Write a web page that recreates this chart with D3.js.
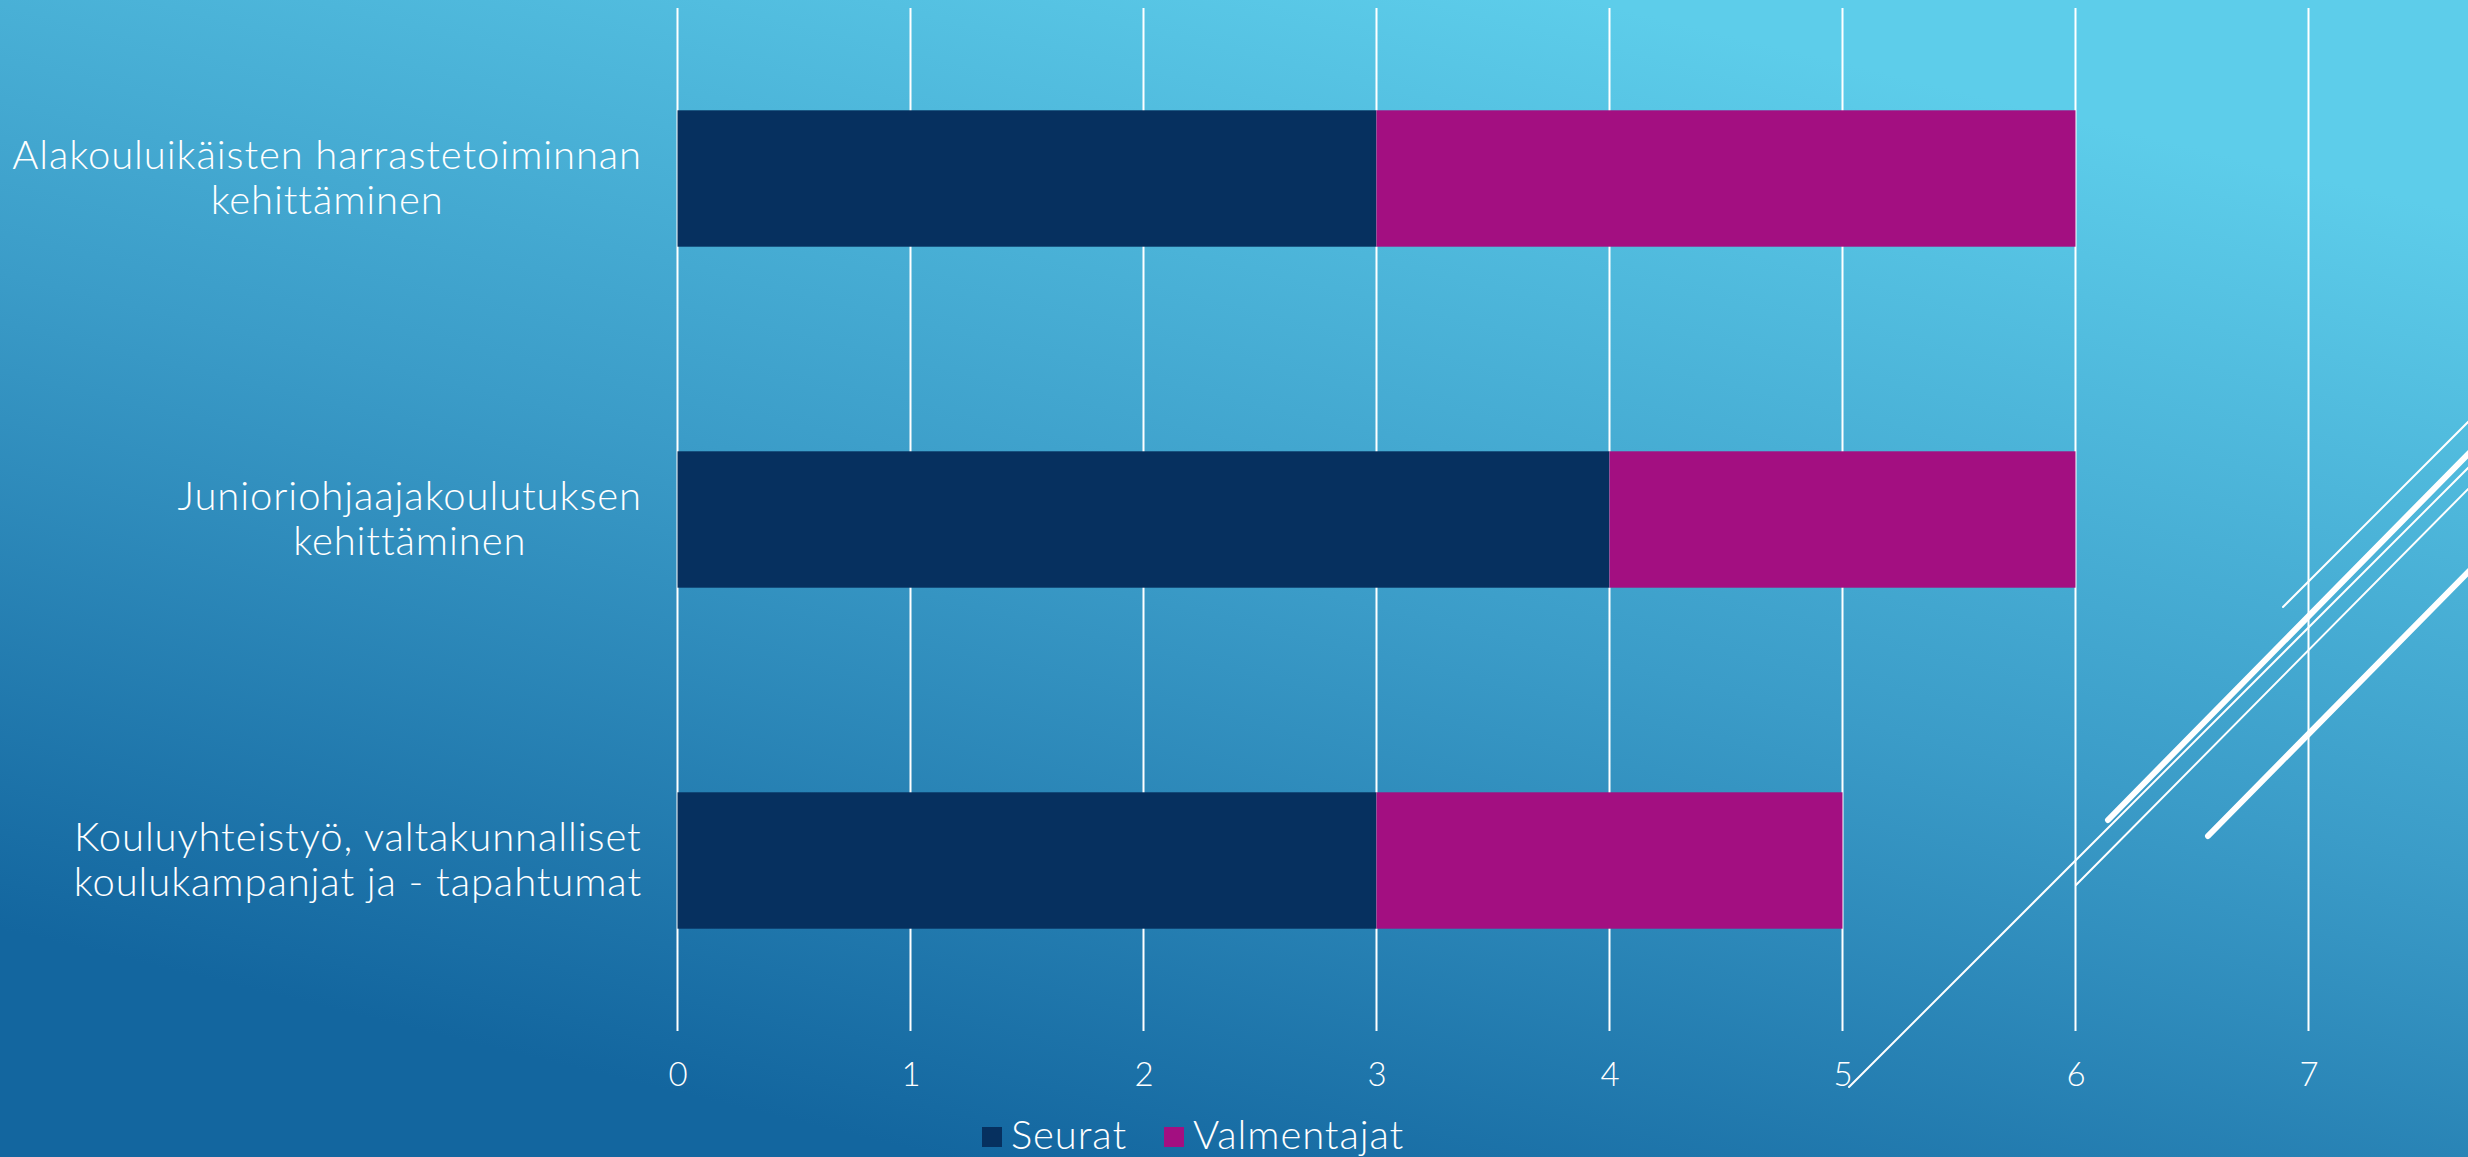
<!DOCTYPE html>
<html>
<head>
<meta charset="utf-8">
<script src="https://cdn.jsdelivr.net/npm/d3@7"></script>
<style>
  html, body { margin: 0; padding: 0; overflow: hidden; }
  svg { display: block; }
  text { font-family: "Lato", "Open Sans", sans-serif; font-weight: 300; fill: #ffffff; }
</style>
</head>
<body>
<svg id="chart" width="2468" height="1157"></svg>
<script>
// ---- data ----
const categories = [
  "Alakouluikäisten harrastetoiminnan kehittäminen",
  "Junioriohjaajakoulutuksen kehittäminen",
  "Kouluyhteistyö, valtakunnalliset koulukampanjat ja - tapahtumat"
];
const categoryLines = [
  ["Alakouluikäisten harrastetoiminnan", "kehittäminen"],
  ["Junioriohjaajakoulutuksen", "kehittäminen"],
  ["Kouluyhteistyö, valtakunnalliset", "koulukampanjat ja - tapahtumat"]
];
const seriesNames = ["Seurat", "Valmentajat"];
const seurat = [3, 4, 3];
const valmentajat = [3, 2, 2];
const xTicks = [0, 1, 2, 3, 4, 5, 6, 7];
const seriesColors = ["#06305f", "#a30f81"];

// ---- layout ----
const W = 2468, H = 1157;
const svg = d3.select("#chart");
const defs = svg.append("defs");

const grad = defs.append("linearGradient")
  .attr("id", "bg").attr("gradientUnits", "userSpaceOnUse")
  .attr("x1", 1420).attr("y1", -40).attr("x2", 1120).attr("y2", 1200);
grad.append("stop").attr("offset", 0).attr("stop-color", "#5dcdea");
grad.append("stop").attr("offset", 0.5).attr("stop-color", "#3b9cc8");
grad.append("stop").attr("offset", 1).attr("stop-color", "#13669f");
svg.append("rect").attr("width", W).attr("height", H).attr("fill", "url(#bg)");

const x = d3.scaleLinear().domain([0, 7]).range([677.5, 2308.5]);
const y = d3.scaleBand().domain(categories).range([8, 1031])
  .paddingInner(0.6).paddingOuter(0.3);

// gridlines
svg.append("g").selectAll("line").data(xTicks).join("line")
  .attr("x1", d => x(d)).attr("x2", d => x(d))
  .attr("y1", y.range()[0]).attr("y2", y.range()[1])
  .attr("stroke", "#ffffff").attr("stroke-width", 2);

// stacked bars
const rows = categories.map((c, i) => ({ cat: c, vals: [seurat[i], valmentajat[i]] }));
const stack = d3.stack().keys([0, 1]).value((d, k) => d.vals[k]);
const stacked = stack(rows);
svg.append("g").selectAll("g").data(stacked).join("g")
  .attr("fill", (d, i) => seriesColors[i])
  .selectAll("rect").data(d => d).join("rect")
  .attr("x", d => x(d[0]))
  .attr("width", d => x(d[1]) - x(d[0]))
  .attr("y", d => y(d.data.cat))
  .attr("height", y.bandwidth());

// x axis tick labels
const xAxis = d3.axisBottom(x).tickValues(xTicks).tickFormat(d3.format("d"))
  .tickSize(0).tickPadding(0);
const gx = svg.append("g").attr("transform", "translate(0,1086)").call(xAxis);
gx.select(".domain").remove();
gx.selectAll("text").attr("font-size", 33).attr("dy", 0)
  .style("font-family", "Lato, sans-serif").style("font-weight", 300).attr("fill", "#fff");

// category labels (block right aligned, lines centered within block)
const catFont = 40;
const labelG = svg.append("g");
categories.forEach((c, i) => {
  const cy = y(c) + y.bandwidth() / 2;
  const g = labelG.append("g");
  const t = g.selectAll("text").data(categoryLines[i]).join("text")
    .attr("font-size", catFont)
    .style("letter-spacing", "0.9px")
    .attr("text-anchor", "middle")
    .attr("y", (d, j) => cy - 10 + j * 45)
    .text(d => d);
  const widths = t.nodes().map(n => n.getComputedTextLength());
  const bw = d3.max(widths);
  t.attr("x", 642 - bw / 2);
});

// legend
const legend = svg.append("g");
const legX = [982, 1164];
seriesNames.forEach((s, i) => {
  legend.append("rect").attr("x", legX[i]).attr("y", 1127).attr("width", 20).attr("height", 20)
    .attr("fill", seriesColors[i]);
  legend.append("text").attr("x", legX[i] + 29).attr("y", 1149).attr("font-size", 40)
    .style("letter-spacing", "0.9px").text(s);
});

// decorative slide lines
const deco = [
  { p: [[2283, 607], [2480, 410]], w: 2 },
  { p: [[2108, 820], [2480, 442]], w: 6 },
  { p: [[1849, 1087], [2480, 456]], w: 2 },
  { p: [[2076, 885], [2480, 477]], w: 2 },
  { p: [[2208, 836], [2480, 560]], w: 6 }
];
svg.append("g").selectAll("line").data(deco).join("line")
  .attr("x1", d => d.p[0][0]).attr("y1", d => d.p[0][1])
  .attr("x2", d => d.p[1][0]).attr("y2", d => d.p[1][1])
  .attr("stroke", "#ffffff").attr("stroke-width", d => d.w)
  .attr("stroke-linecap", "round");
</script>
</body>
</html>
